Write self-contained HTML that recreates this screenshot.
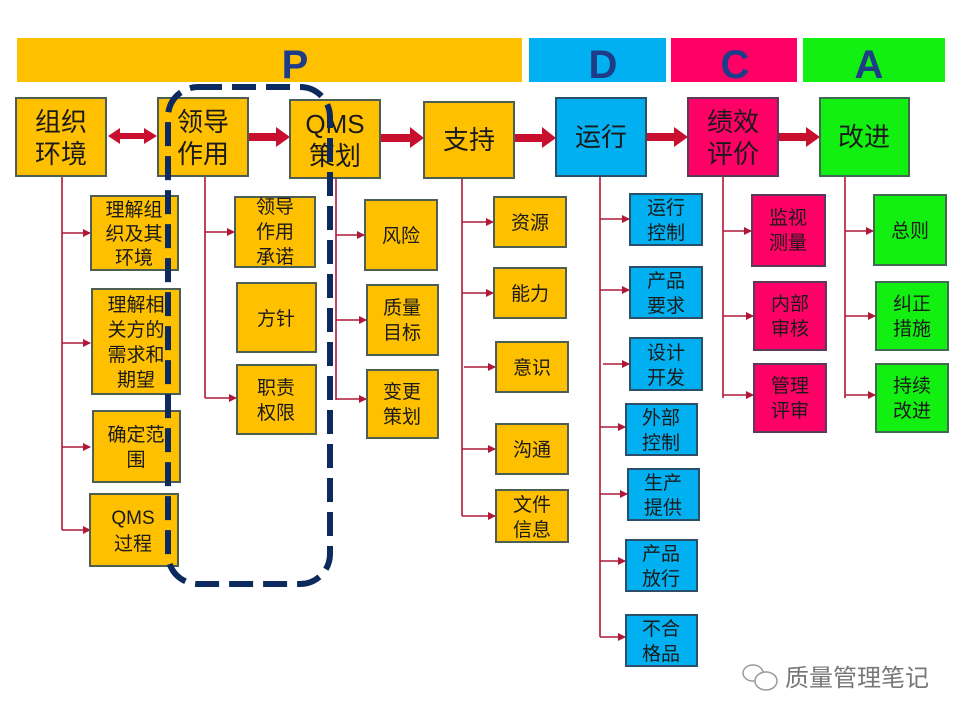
<!DOCTYPE html>
<html><head><meta charset="utf-8"><style>
html,body{margin:0;padding:0;background:#fff;}
svg{display:block;}
text{font-family:"Liberation Sans","Noto Sans CJK SC",sans-serif;fill:#1a1a1a;text-anchor:middle;}
.m{font-size:26px;}
.s{font-size:19px;}
.h{font-size:40px;font-weight:bold;fill:#1F3C88;}
.o{fill:#FFC000;stroke:#4D5F55;stroke-width:2;}
.b{fill:#00B0F0;stroke:#2A4F6A;stroke-width:2;}
.c{fill:#FF0066;stroke:#5A3B5A;stroke-width:2;}
.g{fill:#11F011;stroke:#3F6A4F;stroke-width:2;}
.ln{stroke:#B01838;stroke-width:1.6;fill:none;}
</style></head><body>
<svg width="960" height="720" viewBox="0 0 960 720" xmlns="http://www.w3.org/2000/svg">
<defs>
<marker id="a" markerWidth="8" markerHeight="8" refX="7" refY="4" orient="auto" markerUnits="userSpaceOnUse"><path d="M0,0 L8,4 L0,8 z" fill="#B01838"/></marker>
</defs>
<!-- header bars -->
<rect x="17" y="38" width="505" height="44" fill="#FFC000"/>
<rect x="529" y="38" width="137" height="44" fill="#00B0F0"/>
<rect x="671" y="38" width="126" height="44" fill="#FF0066"/>
<rect x="803" y="38" width="142" height="44" fill="#11F011"/>
<text class="h" x="295" y="78">P</text>
<text class="h" x="603" y="78">D</text>
<text class="h" x="735" y="78">C</text>
<text class="h" x="869" y="78">A</text>

<!-- connectors -->
<g class="ln">
<path d="M62,176 V530"/>
<path d="M62,233 H90" marker-end="url(#a)"/><path d="M62,343 H90" marker-end="url(#a)"/><path d="M62,447 H90" marker-end="url(#a)"/><path d="M62,530 H90" marker-end="url(#a)"/>
<path d="M205,176 V398"/>
<path d="M205,232 H234" marker-end="url(#a)"/><path d="M205,398 H236" marker-end="url(#a)"/>
<path d="M336,178 V400"/>
<path d="M336,235 H364" marker-end="url(#a)"/><path d="M336,320 H366" marker-end="url(#a)"/><path d="M336,399 H366" marker-end="url(#a)"/>
<path d="M462,178 V516"/>
<path d="M462,222 H493" marker-end="url(#a)"/><path d="M462,293 H493" marker-end="url(#a)"/><path d="M464,367 H495" marker-end="url(#a)"/><path d="M462,449 H495" marker-end="url(#a)"/><path d="M462,516 H495" marker-end="url(#a)"/>
<path d="M600,176 V637"/>
<path d="M600,219 H629" marker-end="url(#a)"/><path d="M600,290 H629" marker-end="url(#a)"/><path d="M603,364 H629" marker-end="url(#a)"/><path d="M600,427 H625" marker-end="url(#a)"/><path d="M600,494 H627" marker-end="url(#a)"/><path d="M600,561 H625" marker-end="url(#a)"/><path d="M600,637 H625" marker-end="url(#a)"/>
<path d="M723,176 V398"/>
<path d="M723,231 H751" marker-end="url(#a)"/><path d="M723,316 H753" marker-end="url(#a)"/><path d="M723,395 H753" marker-end="url(#a)"/>
<path d="M845,176 V398"/>
<path d="M845,231 H873" marker-end="url(#a)"/><path d="M845,316 H875" marker-end="url(#a)"/><path d="M845,395 H875" marker-end="url(#a)"/>
</g>

<!-- main arrows -->
<g fill="#C8102E">
<path d="M108,136 L120,128 V133 H144 V128 L157,136 L144,144 V139 H120 V144 z"/>
<path d="M249,133 H276 V127 L290,137 L276,147 V141 H249 z"/>
<path d="M381,134 H410 V127 L424,138 L410,148 V142 H381 z"/>
<path d="M515,134 H542 V127 L556,138 L542,148 V142 H515 z"/>
<path d="M647,133 H674 V127 L688,137 L674,147 V141 H647 z"/>
<path d="M779,133 H806 V127 L820,137 L806,147 V141 H779 z"/>
</g>

<!-- main boxes -->
<rect class="o" x="16" y="98" width="90" height="78"/><text class="m" x="61" y="131">组织</text><text class="m" x="61" y="163">环境</text>
<rect class="o" x="158" y="98" width="90" height="78"/><text class="m" x="203" y="131">领导</text><text class="m" x="203" y="163">作用</text>
<rect class="o" x="290" y="100" width="90" height="78"/><text class="m" x="335" y="133">QMS</text><text class="m" x="335" y="165">策划</text>
<rect class="o" x="424" y="102" width="90" height="76"/><text class="m" x="469" y="149">支持</text>
<rect class="b" x="556" y="98" width="90" height="78"/><text class="m" x="601" y="146">运行</text>
<rect class="c" x="688" y="98" width="90" height="78"/><text class="m" x="733" y="131">绩效</text><text class="m" x="733" y="163">评价</text>
<rect class="g" x="820" y="98" width="89" height="78"/><text class="m" x="864" y="146">改进</text>

<!-- col1 -->
<rect class="o" x="91" y="196" width="87" height="74"/><text class="s" x="134" y="216">理解组</text><text class="s" x="134" y="240">织及其</text><text class="s" x="134" y="264">环境</text>
<rect class="o" x="92" y="289" width="88" height="105"/><text class="s" x="136" y="311">理解相</text><text class="s" x="136" y="336">关方的</text><text class="s" x="136" y="361">需求和</text><text class="s" x="136" y="386">期望</text>
<rect class="o" x="93" y="411" width="87" height="71"/><text class="s" x="136" y="441">确定范</text><text class="s" x="136" y="466">围</text>
<rect class="o" x="90" y="494" width="88" height="72"/><text class="s" x="133" y="524">QMS</text><text class="s" x="133" y="550">过程</text>
<!-- col2 -->
<rect class="o" x="235" y="197" width="80" height="70"/><text class="s" x="275" y="213">领导</text><text class="s" x="275" y="238">作用</text><text class="s" x="275" y="263">承诺</text>
<rect class="o" x="237" y="283" width="79" height="69"/><text class="s" x="276" y="325">方针</text>
<rect class="o" x="237" y="365" width="79" height="69"/><text class="s" x="276" y="394">职责</text><text class="s" x="276" y="419">权限</text>
<!-- col3 -->
<rect class="o" x="365" y="200" width="72" height="70"/><text class="s" x="401" y="242">风险</text>
<rect class="o" x="367" y="285" width="71" height="70"/><text class="s" x="402" y="314">质量</text><text class="s" x="402" y="339">目标</text>
<rect class="o" x="367" y="370" width="71" height="68"/><text class="s" x="402" y="398">变更</text><text class="s" x="402" y="423">策划</text>
<!-- col4 -->
<rect class="o" x="494" y="197" width="72" height="50"/><text class="s" x="530" y="229">资源</text>
<rect class="o" x="494" y="268" width="72" height="50"/><text class="s" x="530" y="300">能力</text>
<rect class="o" x="496" y="342" width="72" height="50"/><text class="s" x="532" y="374">意识</text>
<rect class="o" x="496" y="424" width="72" height="50"/><text class="s" x="532" y="456">沟通</text>
<rect class="o" x="496" y="490" width="72" height="52"/><text class="s" x="532" y="511">文件</text><text class="s" x="532" y="536">信息</text>
<!-- col5 -->
<rect class="b" x="630" y="194" width="72" height="51"/><text class="s" x="666" y="214">运行</text><text class="s" x="666" y="239">控制</text>
<rect class="b" x="630" y="267" width="72" height="51"/><text class="s" x="666" y="287">产品</text><text class="s" x="666" y="312">要求</text>
<rect class="b" x="630" y="338" width="72" height="52"/><text class="s" x="666" y="359">设计</text><text class="s" x="666" y="384">开发</text>
<rect class="b" x="626" y="404" width="71" height="51"/><text class="s" x="661" y="424">外部</text><text class="s" x="661" y="449">控制</text>
<rect class="b" x="628" y="469" width="71" height="51"/><text class="s" x="663" y="489">生产</text><text class="s" x="663" y="514">提供</text>
<rect class="b" x="626" y="540" width="71" height="51"/><text class="s" x="661" y="560">产品</text><text class="s" x="661" y="585">放行</text>
<rect class="b" x="626" y="615" width="71" height="51"/><text class="s" x="661" y="635">不合</text><text class="s" x="661" y="660">格品</text>
<!-- col6 -->
<rect class="c" x="752" y="195" width="73" height="71"/><text class="s" x="788" y="224">监视</text><text class="s" x="788" y="249">测量</text>
<rect class="c" x="754" y="282" width="72" height="68"/><text class="s" x="790" y="310">内部</text><text class="s" x="790" y="335">审核</text>
<rect class="c" x="754" y="364" width="72" height="68"/><text class="s" x="790" y="392">管理</text><text class="s" x="790" y="417">评审</text>
<!-- col7 -->
<rect class="g" x="874" y="195" width="72" height="70"/><text class="s" x="910" y="237">总则</text>
<rect class="g" x="876" y="282" width="72" height="68"/><text class="s" x="912" y="310">纠正</text><text class="s" x="912" y="335">措施</text>
<rect class="g" x="876" y="364" width="72" height="68"/><text class="s" x="912" y="392">持续</text><text class="s" x="912" y="417">改进</text>

<!-- dashed highlight -->
<rect x="168" y="87" width="162" height="497" rx="30" ry="30" fill="none" stroke="#0D2A5E" stroke-width="6" stroke-dasharray="24,10"/>

<!-- watermark -->
<g fill="none" stroke="#9a9a9a" stroke-width="1.5">
<ellipse cx="753" cy="673" rx="10" ry="8"/>
<ellipse cx="766" cy="681" rx="11" ry="9" fill="#fff"/>
</g>
<text x="857" y="686" style="font-size:24px;fill:#777;">质量管理笔记</text>
</svg>
</body></html>
